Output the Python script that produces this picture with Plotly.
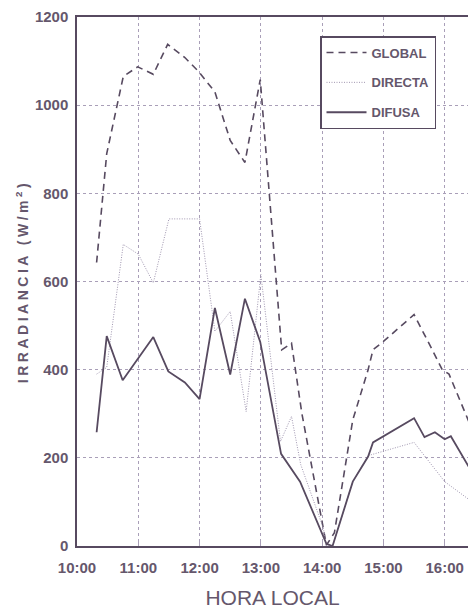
import plotly.graph_objects as go

# Time in decimal hours after 10:00
global_t = [0.32, 0.485, 0.755, 0.99, 1.245, 1.48, 1.76, 1.98, 2.25, 2.5, 2.74, 2.99,
            3.34, 3.5, 3.67, 4.07, 4.2, 4.4, 4.5, 4.75, 4.83, 5.0, 5.5, 5.76, 5.96, 6.07, 6.4]
global_v = [643, 890, 1065, 1087, 1070, 1138, 1108, 1077, 1030, 920, 870, 1058,
            445, 460, 300, 2, 30, 195, 286, 400, 445, 464, 525, 455, 400, 390, 280]

directa_t = [0.32, 0.485, 0.755, 1.0, 1.245, 1.5, 2.0, 2.25, 2.5, 2.76, 3.0, 3.32,
             3.5, 3.65, 4.02, 4.07, 4.17, 4.5, 4.75, 5.5, 6.0, 6.4]
directa_v = [390, 405, 684, 662, 597, 742, 742, 487, 532, 305, 616, 237,
             294, 185, 40, 0, 0, 146, 205, 235, 146, 105]

difusa_t = [0.32, 0.485, 0.745, 1.245, 1.49, 1.76, 2.0, 2.25, 2.5, 2.74, 2.99, 3.33,
            3.64, 4.07, 4.17, 4.5, 4.75, 4.83, 5.5, 5.67, 5.84, 6.0, 6.1, 6.4]
difusa_v = [258, 476, 376, 474, 396, 371, 333, 540, 389, 561, 463, 209,
            146, 5, 0, 146, 203, 235, 290, 247, 258, 242, 249, 178]

tick_hours = [0, 1, 2, 3, 4, 5, 6]
tick_labels = ["10:00", "11:00", "12:00", "13:00", "14:00", "15:00", "16:00"]
y_ticks = [0, 200, 400, 600, 800, 1000, 1200]

ink = "#574a60"
text_col = "#65576c"
grid_col = "#a99fb8"

fig = go.Figure()
fig.add_trace(go.Scatter(x=global_t, y=global_v, mode="lines", name="GLOBAL",
                         legendgroup="g1",
                         line=dict(color=ink, width=1.6, dash="7px,5px")))
fig.add_trace(go.Scatter(x=directa_t, y=directa_v, mode="lines", name="DIRECTA",
                         legendgroup="g2",
                         line=dict(color="#a096b0", width=1, dash="1px,1.5px")))
fig.add_trace(go.Scatter(x=difusa_t, y=difusa_v, mode="lines", name="DIFUSA",
                         legendgroup="g3",
                         line=dict(color=ink, width=1.8)))

font_fam = "Liberation Sans, Arial, sans-serif"

fig.update_layout(
    width=468, height=613,
    margin=dict(l=77, r=0, t=17, b=67, autoexpand=False),
    paper_bgcolor="white", plot_bgcolor="white",
    font=dict(family=font_fam, color=text_col),
    legend=dict(
        x=(320 - 77) / 391, y=(546 - 36) / 529, xanchor="left", yanchor="top",
        bgcolor="white", bordercolor=ink, borderwidth=1.5,
        font=dict(family=font_fam, size=13, color=text_col, weight="bold"),
        itemwidth=40, tracegroupgap=10, traceorder="grouped",
        entrywidth=108,
    ),
    xaxis=dict(
        range=[0, 6.38], tickvals=tick_hours, ticktext=tick_labels,
        showline=True, linecolor=ink, linewidth=1.5, mirror=True,
        showgrid=True, gridcolor=grid_col, griddash="dot", gridwidth=1,
        ticks="inside", ticklen=4, tickcolor=grid_col,
        ticklabelstandoff=7,
        tickfont=dict(family=font_fam, size=15, color=text_col, weight="bold"),
        title=dict(text="HORA LOCAL", standoff=16,
                   font=dict(family=font_fam, size=21, color=text_col)),
        zeroline=False,
    ),
    yaxis=dict(
        range=[0, 1200], tickvals=y_ticks,
        showline=True, linecolor=ink, linewidth=1.5, mirror=False,
        showgrid=True, gridcolor=grid_col, griddash="dot", gridwidth=1,
        ticks="", ticklabelstandoff=4,
        tickfont=dict(family=font_fam, size=15, color=text_col, weight="bold"),
        title=dict(text="IRRADIANCIA (W/m<sup>2</sup>)", standoff=3,
                   font=dict(family=font_fam, size=14, color=text_col, weight="bold")),
        zeroline=False,
    ),
)

post = """
var gd = document.getElementById('{plot_id}');
function spaceTitle(){
  var t = gd.querySelector('.ytitle');
  if (t) { t.style.letterSpacing = '3.5px'; }
}
spaceTitle();
gd.on && gd.on('plotly_afterplot', spaceTitle);
"""

fig.write_html("out.html", post_script=post)
